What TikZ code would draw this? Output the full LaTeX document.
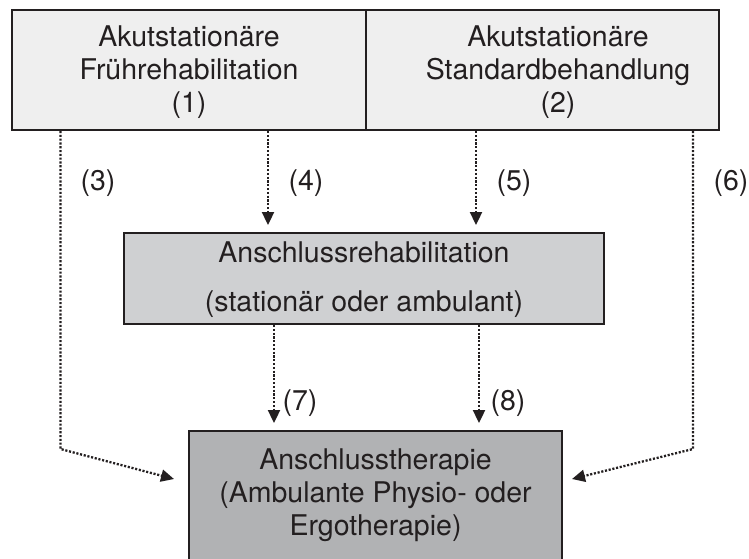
\documentclass[tikz,border=0pt]{standalone}
\usepackage{fontspec}
\setmainfont{TeX Gyre Heros}
\usetikzlibrary{arrows.meta}
\definecolor{ink}{HTML}{231F20}
\definecolor{fillA}{HTML}{EFEFEF}
\definecolor{fillB}{HTML}{CFD0D2}
\definecolor{fillC}{HTML}{B1B2B4}
\begin{document}
\begin{tikzpicture}[x=1pt,y=-1pt,
  box/.style={draw=ink, line width=2pt, inner sep=0pt},
  txt/.style={text=ink, align=center, font=\fontsize{28.5}{33}\selectfont, inner sep=0pt},
  conn/.style={draw=ink, line width=2.3pt, dash pattern=on 2.1pt off 1.7pt,
    -{Triangle[length=13pt,width=12pt]}},
  ]
\useasboundingbox (0,0) rectangle (749,558);
\clip (0,0) rectangle (749,558);
% boxes
\node[box, fill=fillA, minimum width=354pt, minimum height=120pt] (top1) at (189,70) {};
\node[box, fill=fillA, minimum width=353pt, minimum height=120pt] (top2) at (542.5,70) {};
\node[box, fill=fillB, minimum width=480pt, minimum height=91pt] (mid) at (364,278.5) {};
\node[box, fill=fillC, minimum width=373pt, minimum height=129pt] (bot) at (375.5,495.5) {};
% texts
\node[txt] (t1) at (189,72) {Akutstationäre\\Frührehabilitation\\(1)};
\node[txt] (t2) at (558,72) {Akutstationäre\\Standardbehandlung\\(2)};
\node[txt] (tm) at (364,280) {Anschlussrehabilitation\\[16pt](stationär oder ambulant)};
\node[txt] (tb) at (375.5,495) {Anschlusstherapie\\(Ambulante Physio- oder\\Ergotherapie)};
% coordinates
\coordinate (c3) at (60.5,449);
\coordinate (a3) at (174,479);
\coordinate (a4) at (268,225);
\coordinate (a5) at (476,225);
\coordinate (c6) at (693,449);
\coordinate (a6) at (572,479);
\coordinate (a7) at (274,423);
\coordinate (a8) at (479,423);
% connectors
\draw[conn] (top1.south -| c3) -- (c3) -- (a3);
\draw[conn] (top1.south -| a4) -- (a4);
\draw[conn] (top2.south -| a5) -- (a5);
\draw[conn] (top2.south -| c6) -- (c6) -- (a6);
\draw[conn] (mid.south -| a7) -- (a7);
\draw[conn] (mid.south -| a8) -- (a8);
% labels
\node[txt] (l3) at (98,183) {(3)};
\node[txt] (l4) at (306,183) {(4)};
\node[txt] (l5) at (514,183) {(5)};
\node[txt] (l6) at (731,183) {(6)};
\node[txt] (l7) at (300,403) {(7)};
\node[txt] (l8) at (508,403) {(8)};
\end{tikzpicture}
\end{document}
